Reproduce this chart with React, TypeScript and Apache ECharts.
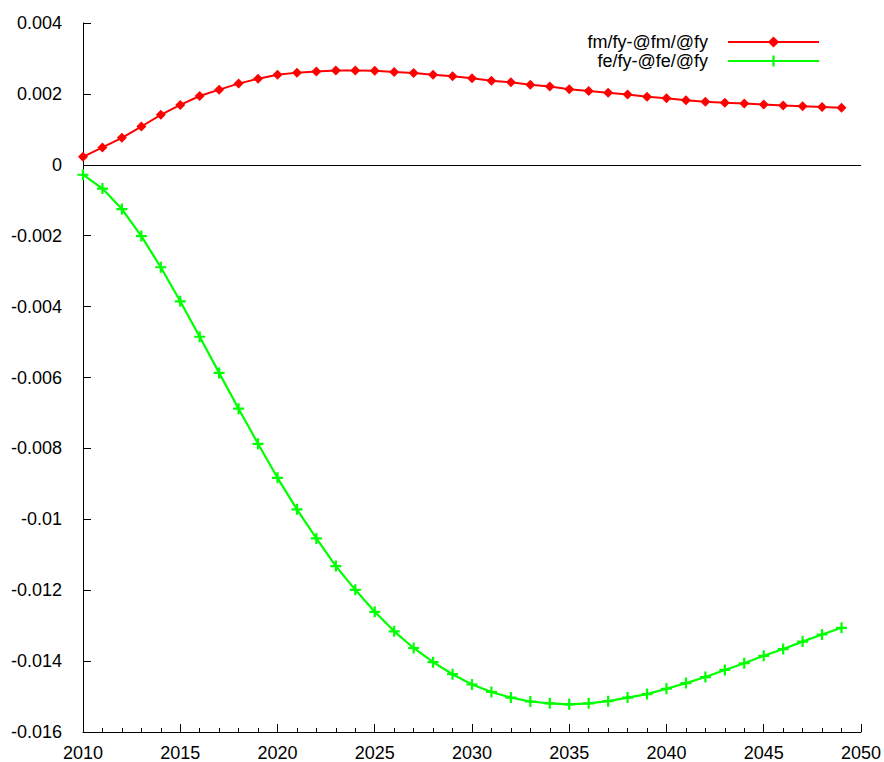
import React, { useEffect, useRef } from "react";
import * as echarts from "echarts";

// Years of the projection horizon
const years: number[] = [
  2010, 2011, 2012, 2013, 2014, 2015, 2016, 2017, 2018, 2019,
  2020, 2021, 2022, 2023, 2024, 2025, 2026, 2027, 2028, 2029,
  2030, 2031, 2032, 2033, 2034, 2035, 2036, 2037, 2038, 2039,
  2040, 2041, 2042, 2043, 2044, 2045, 2046, 2047, 2048, 2049,
];

// fm/fy-@fm/@fy
const fmSeries: number[] = [
  0.000225, 0.00049, 0.00076, 0.00108, 0.00141, 0.00169, 0.00194, 0.00212, 0.00229, 0.00243,
  0.00254, 0.0026, 0.00263, 0.00266, 0.00266, 0.00265, 0.00262, 0.00259, 0.00254, 0.0025,
  0.00244, 0.00237, 0.00233, 0.00226, 0.00221, 0.00213, 0.00208, 0.00203, 0.00198, 0.00192,
  0.00188, 0.00182, 0.00178, 0.00175, 0.00173, 0.0017, 0.00167, 0.00165, 0.00163, 0.00161,
];

// fe/fy-@fe/@fy
const feSeries: number[] = [
  -0.00028, -0.00067, -0.00125, -0.00201, -0.00289, -0.00385, -0.00485, -0.00587, -0.00688, -0.00787,
  -0.00883, -0.00972, -0.01054, -0.01132, -0.01199, -0.01261, -0.01316, -0.01363, -0.01403, -0.01437,
  -0.01466, -0.01487, -0.01503, -0.01514, -0.01519, -0.01522, -0.01519, -0.01513, -0.01503, -0.01493,
  -0.01478, -0.01462, -0.01445, -0.01425, -0.01406, -0.01385, -0.01366, -0.01345, -0.01325, -0.01306,
];

const seriesNames: string[] = ["fm/fy-@fm/@fy", "fe/fy-@fe/@fy"];

const FONT = "'Liberation Sans', Arial, Helvetica, sans-serif";
const PLUS = "path://M4,0H6V4H10V6H6V10H4V6H0V4H4Z";

export default function App() {
  const ref = useRef<HTMLDivElement>(null);

  useEffect(() => {
    if (!ref.current) return;
    const chart = echarts.init(ref.current, undefined, { renderer: "svg" });

    const fmData = years.map((y, i) => [y, fmSeries[i]]);
    const feData = years.map((y, i) => [y, feSeries[i]]);

    chart.setOption({
      animation: false,
      backgroundColor: "#ffffff",
      textStyle: { fontFamily: FONT },
      grid: { left: 83, right: 23, top: 23, bottom: 30, containLabel: false },
      legend: {
        orient: "vertical",
        right: 59,
        top: 28,
        align: "right",
        itemWidth: 91,
        itemHeight: 14,
        itemGap: 1,
        textStyle: { fontSize: 18, color: "#000", fontFamily: FONT, padding: [0, 15, 0, 0] },
        data: seriesNames,
      },
      xAxis: {
        type: "value",
        min: 2010,
        max: 2050,
        interval: 5,
        axisLine: { show: true, onZero: false, lineStyle: { color: "#000", width: 1 } },
        axisTick: { show: true, inside: true, length: 8, lineStyle: { color: "#000" } },
        minorTick: { show: true, splitNumber: 5, length: 4, lineStyle: { color: "#000" } },
        splitLine: { show: false },
        axisLabel: {
          color: "#000",
          fontSize: 18,
          margin: 12,
          fontFamily: FONT,
          formatter: (v: number) => String(Math.round(v)),
        },
      },
      yAxis: {
        type: "value",
        min: -0.016,
        max: 0.004,
        interval: 0.002,
        axisLine: { show: true, onZero: false, lineStyle: { color: "#000", width: 1 } },
        axisTick: { show: true, inside: true, length: 8, lineStyle: { color: "#000" } },
        splitLine: { show: false },
        axisLabel: {
          color: "#000",
          fontSize: 18,
          margin: 21,
          fontFamily: FONT,
          formatter: (v: number) => {
            const r = parseFloat(v.toFixed(3));
            return r === 0 ? "0" : String(r);
          },
        },
      },
      series: [
        {
          name: seriesNames[0],
          type: "line",
          data: fmData,
          symbol: "diamond",
          symbolSize: 10,
          showAllSymbol: true,
          z: 3,
          lineStyle: { color: "#ff0000", width: 2 },
          itemStyle: { color: "#ff0000" },
          markLine: {
            silent: true,
            symbol: "none",
            label: { show: false },
            lineStyle: { color: "#000", width: 1, type: "solid" },
            data: [{ yAxis: 0 }],
          },
        },
        {
          name: seriesNames[1],
          type: "line",
          data: feData,
          symbol: PLUS,
          symbolSize: 11,
          showAllSymbol: true,
          z: 3,
          lineStyle: { color: "#00ff00", width: 2.2 },
          itemStyle: { color: "#00ff00" },
        },
      ],
    });

    return () => chart.dispose();
  }, []);

  return (
    <div
      ref={ref}
      style={{ position: "fixed", left: 0, top: 0, width: 884, height: 762, background: "#fff" }}
    />
  );
}
